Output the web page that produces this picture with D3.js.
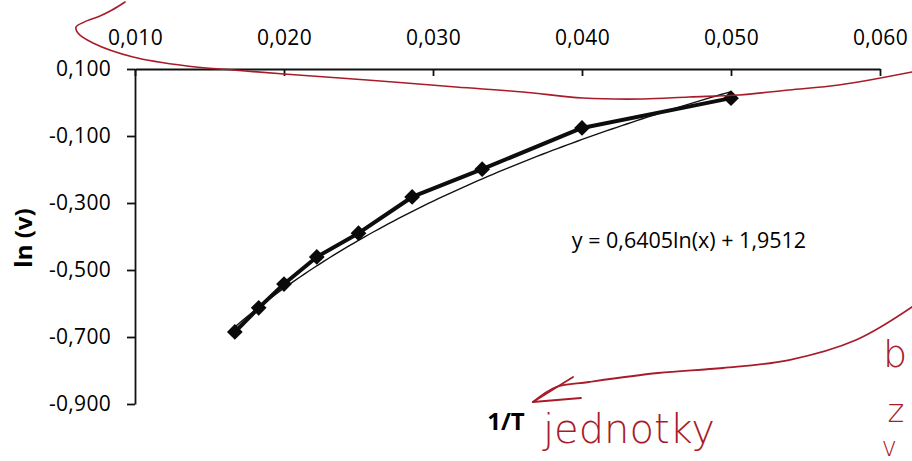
<!DOCTYPE html>
<html>
<head>
<meta charset="utf-8">
<script src="https://cdn.jsdelivr.net/npm/d3@7/dist/d3.min.js"></script>
<style>
  html, body { margin: 0; padding: 0; background: #ffffff; }
  svg { display: block; }
</style>
</head>
<body>
<svg id="chart" width="912" height="461"></svg>
<script>
// ---- data ----
const invT = [0.0167, 0.0183, 0.0200, 0.0222, 0.0250, 0.0286, 0.0333, 0.0400, 0.0500];
const lnV  = [-0.685, -0.613, -0.542, -0.461, -0.390, -0.282, -0.199, -0.076, 0.013];
const xTicks = [0.010, 0.020, 0.030, 0.040, 0.050, 0.060];
const yTicks = [0.100, -0.100, -0.300, -0.500, -0.700, -0.900];
const trendA = 0.6405;
const trendB = 1.9512;
const equationLabel = "y = 0,6405ln(x) + 1,9512";
const xTitle = "1/T";
const yTitle = "ln (v)";

// handwritten red annotations (in chart units)
const penLoop = [[0.00933,0.300],[0.00846,0.276],[0.00765,0.258],[0.00658,0.240],[0.00604,0.225],[0.00617,0.2075],[0.00718,0.1776],[0.00987,0.1358],[0.01349,0.1090],[0.01658,0.0970],[0.02000,0.0851],[0.02557,0.0672],[0.03154,0.0463],[0.03604,0.0313],[0.04007,0.0134],[0.04409,0.0104],[0.04718,0.0164],[0.05054,0.0224],[0.05389,0.0373],[0.05725,0.0522],[0.06215,0.0910]];
const penArrow = [[0.06215,-0.6104],[0.05839,-0.7090],[0.05389,-0.7687],[0.04946,-0.7925],[0.04510,-0.8075],[0.04047,-0.8343],[0.03826,-0.8493],[0.03671,-0.8940]];
const penBarbs = [[[0.03940,-0.8194],[0.03671,-0.8940]],[[0.03993,-0.8821],[0.03671,-0.8940]]];
const penWords = [
  {text: "jednotky", x: 0.03738, y: -1.0164, size: 40},
  {text: "b", x: 0.06020, y: -0.7896, size: 38},
  {text: "z", x: 0.06050, y: -0.9537, size: 32},
  {text: "v", x: 0.06010, y: -1.0550, size: 26}
];

// ---- layout ----
const W = 912, H = 461;
const margin = {left: 135, top: 69, right: 32, bottom: 57};
const svg = d3.select("#chart");
svg.append("rect").attr("width", W).attr("height", H).attr("fill", "#ffffff");

const x = d3.scaleLinear().domain([0.010, 0.060]).range([margin.left, W - margin.right]);
const y = d3.scaleLinear().domain([-0.900, 0.100]).range([H - margin.bottom, margin.top]);

const locale = d3.formatLocale({decimal: ",", thousands: " ", grouping: [3], currency: ["", ""], minus: "-"});
const fmt = locale.format(".3f");

const FONT = "'Open Sans', Lato, 'DejaVu Sans', sans-serif";

// x axis at the top (crosses at y = 0.1), ticks point down
const gx = svg.append("g")
  .attr("transform", `translate(0,${y(0.100)})`)
  .call(d3.axisTop(x).tickValues(xTicks).tickFormat(fmt).tickSizeInner(-7).tickSizeOuter(0).tickPadding(24));
gx.select(".domain").attr("stroke", "#111").attr("stroke-width", 1.8);
gx.selectAll(".tick line").attr("stroke", "#111").attr("stroke-width", 1.8);
gx.selectAll(".tick text").attr("font-family", FONT).attr("font-size", 21).attr("fill", "#000").attr("letter-spacing", 0.3);

// y axis
const gy = svg.append("g")
  .attr("transform", `translate(${x(0.010)},0)`)
  .call(d3.axisLeft(y).tickValues(yTicks).tickFormat(fmt).tickSizeInner(8).tickSizeOuter(0).tickPadding(16));
gy.select(".domain").attr("stroke", "#111").attr("stroke-width", 1.8);
gy.selectAll(".tick line").attr("stroke", "#111").attr("stroke-width", 1.8);
gy.selectAll(".tick text").attr("font-family", FONT).attr("font-size", 21).attr("fill", "#000").attr("letter-spacing", 0.3);

// axis titles
svg.append("text")
  .attr("x", 506).attr("y", 430)
  .attr("text-anchor", "middle")
  .attr("font-family", FONT).attr("font-weight", "bold").attr("font-size", 24).attr("fill", "#000")
  .text(xTitle);
svg.append("text")
  .attr("transform", `translate(32,238) rotate(-90)`)
  .attr("text-anchor", "middle")
  .attr("font-family", FONT).attr("font-weight", "bold").attr("font-size", 24).attr("fill", "#000")
  .text(yTitle);

// series line
const pts = invT.map((v, i) => [v, lnV[i]]);
const line = d3.line().x(d => x(d[0])).y(d => y(d[1]));
svg.append("path")
  .datum(pts)
  .attr("d", line)
  .attr("fill", "none")
  .attr("stroke", "#0d0d0d")
  .attr("stroke-width", 4)
  .attr("stroke-linejoin", "round");

// logarithmic trendline y = a ln(x) + b, from first to last x
const xmin = d3.min(invT), xmax = d3.max(invT);
const trendPts = d3.range(0, 101).map(k => {
  const xv = xmin + (xmax - xmin) * k / 100;
  return [xv, trendA * Math.log(xv) + trendB];
});
svg.append("path")
  .datum(trendPts)
  .attr("d", line)
  .attr("fill", "none")
  .attr("stroke", "#111")
  .attr("stroke-width", 1.4);

// diamond markers
const diamond = d3.symbol().type(d3.symbolSquare).size(124);
svg.selectAll(".mk")
  .data(pts)
  .join("path")
  .attr("class", "mk")
  .attr("d", diamond)
  .attr("transform", d => `translate(${x(d[0])},${y(d[1])}) rotate(45)`)
  .attr("fill", "#0a0a0a");

// trendline equation
svg.append("text")
  .attr("x", 689).attr("y", 248)
  .attr("text-anchor", "middle")
  .attr("font-family", FONT).attr("font-size", 21.5).attr("fill", "#000")
  .text(equationLabel);

// ---- handwritten red pen marks ----
const RED = "#a81c2a";
const pen = d3.line().x(d => x(d[0])).y(d => y(d[1])).curve(d3.curveCatmullRom);
svg.append("path").datum(penLoop).attr("d", pen)
  .attr("fill", "none").attr("stroke", RED).attr("stroke-width", 1.6).attr("stroke-linecap", "round");
svg.append("path").datum(penArrow).attr("d", pen)
  .attr("fill", "none").attr("stroke", RED).attr("stroke-width", 1.8).attr("stroke-linecap", "round");
penBarbs.forEach(b => {
  svg.append("path").datum(b).attr("d", d3.line().x(d => x(d[0])).y(d => y(d[1])))
    .attr("fill", "none").attr("stroke", RED).attr("stroke-width", 1.8).attr("stroke-linecap", "round");
});
svg.selectAll(".pen")
  .data(penWords)
  .join("text")
  .attr("class", "pen")
  .attr("x", d => x(d.x)).attr("y", d => y(d.y))
  .attr("font-family", "'DejaVu Sans ExtraLight', 'DejaVu Sans', sans-serif")
  .attr("font-weight", 200)
  .attr("font-size", d => d.size)
  .attr("fill", RED)
  .text(d => d.text);
</script>
</body>
</html>
